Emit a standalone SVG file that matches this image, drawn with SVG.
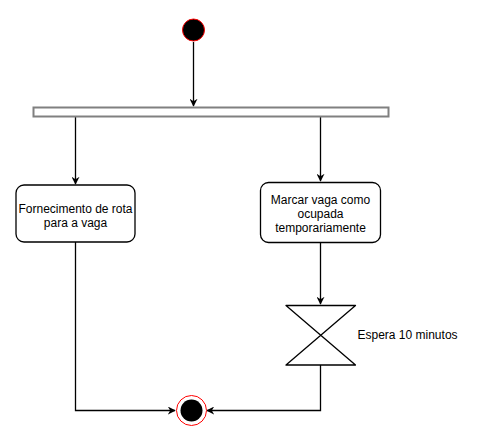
<svg xmlns="http://www.w3.org/2000/svg" width="491" height="441" viewBox="0 0 491 441">
<defs>
<style>
.edge{fill:none;stroke:#000;stroke-width:1.3}
.box{fill:#fff;stroke:#000;stroke-width:1.3}
.t{font-family:"Liberation Sans",Arial,sans-serif;font-size:12px;fill:#000}
</style>
<marker id="arr" viewBox="0 0 10 10" refX="9" refY="5" markerWidth="8" markerHeight="8" markerUnits="userSpaceOnUse" orient="auto">
<path d="M0,0 L10,5 L0,10 L3,5 Z" fill="#000"/>
</marker>
</defs>
<rect width="491" height="441" fill="#fff"/>
<g id="connectors">
<line class="edge" x1="193.5" y1="42" x2="193.5" y2="106" marker-end="url(#arr)"/>
<line class="edge" x1="75.5" y1="117" x2="75.5" y2="184" marker-end="url(#arr)"/>
<line class="edge" x1="320.5" y1="117" x2="320.5" y2="181" marker-end="url(#arr)"/>
<line class="edge" x1="320.5" y1="242" x2="320.5" y2="304" marker-end="url(#arr)"/>
<polyline class="edge" points="75.5,242 75.5,410.5 175,410.5" marker-end="url(#arr)"/>
<polyline class="edge" points="320.5,365 320.5,410.5 207,410.5" marker-end="url(#arr)"/>
</g>
<g id="start">
<circle cx="193.5" cy="30" r="11" fill="#000" stroke="#ff0000" stroke-width="1"/>
</g>
<g id="fork">
<rect x="33.5" y="107.5" width="355" height="9" fill="#fff" stroke="#808080" stroke-width="2"/>
</g>
<g id="rota">
<rect class="box" x="16" y="185" width="119" height="57" rx="8"/>
<text class="t" text-anchor="middle" x="75.5" y="213">Fornecimento de rota</text>
<text class="t" text-anchor="middle" x="75.5" y="227">para a vaga</text>
</g>
<g id="marcar">
<rect class="box" x="260.5" y="182.5" width="120" height="60" rx="8"/>
<text class="t" text-anchor="middle" x="320.5" y="204">Marcar vaga como</text>
<text class="t" text-anchor="middle" x="320.5" y="218">ocupada</text>
<text class="t" text-anchor="middle" x="320.5" y="232">temporariamente</text>
</g>
<g id="espera">
<path d="M286,305.5 H355.5 L286,365 H355.5 Z" fill="#fff" stroke="#000" stroke-width="1.3" stroke-linejoin="round"/>
<text class="t" x="357.5" y="339">Espera 10 minutos</text>
</g>
<g id="end">
<circle cx="191.5" cy="410.5" r="15" fill="#fff" stroke="#ff0000" stroke-width="1"/>
<circle cx="191.5" cy="410.5" r="11" fill="#000"/>
</g>
</svg>
